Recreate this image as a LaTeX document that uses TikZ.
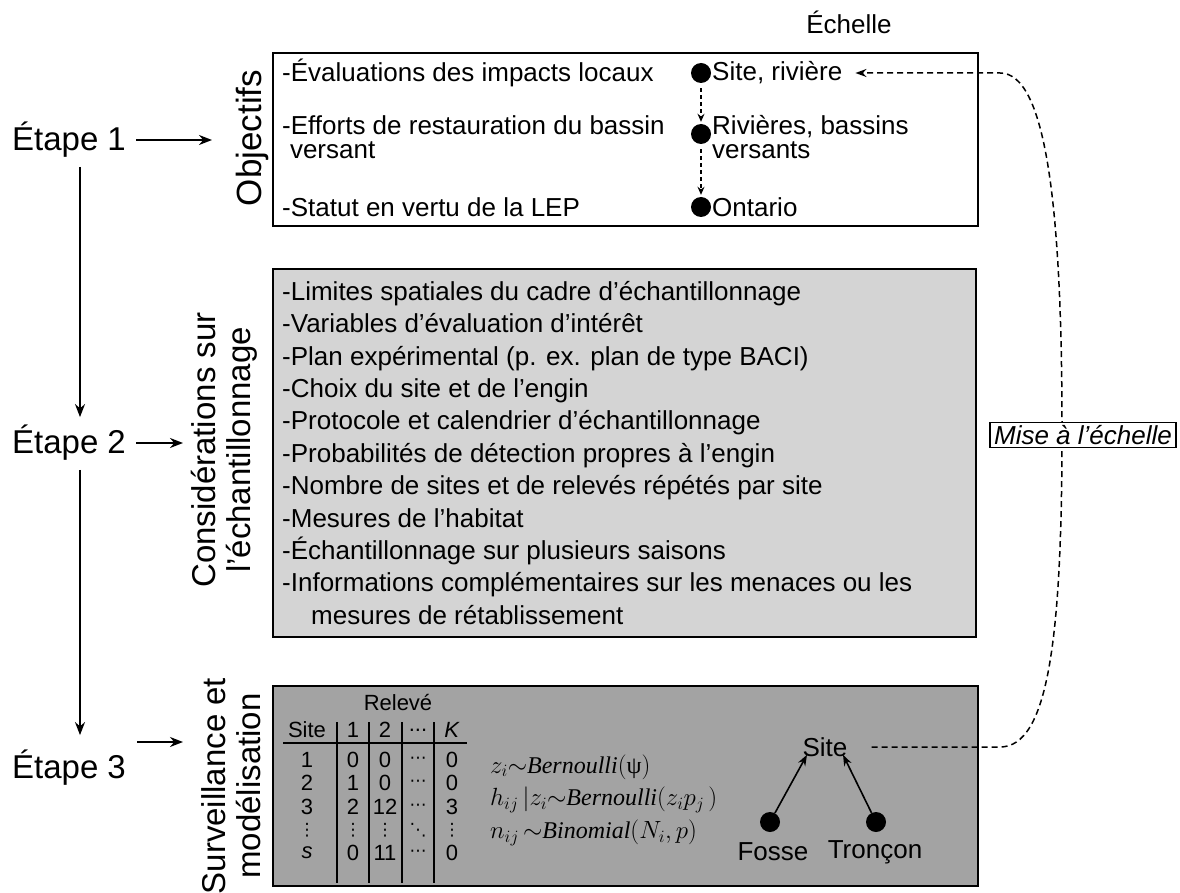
\documentclass[tikz,border=0pt]{standalone}
\usepackage{fontspec}
\setmainfont{Liberation Sans}
\newfontfamily\eqf{Liberation Serif}
\newfontfamily\djv{DejaVu Sans}
\usetikzlibrary{arrows.meta}
\newcommand{\hdots}{{\djv\fontsize{17}{17}\selectfont ⋯}}
\newcommand{\vdotsx}{{\djv\fontsize{17}{17}\selectfont ⋮}}
\newcommand{\ddotsx}{{\djv\fontsize{17}{17}\selectfont ⋱}}
\newcommand{\ei}[1]{\mbox{\eqf\itshape #1}}
\begin{document}
\begin{tikzpicture}[x=1pt,y=-1pt,
  every node/.style={inner sep=0pt},
  body/.style={font=\fontsize{26}{28}\selectfont},
  big/.style={font=\fontsize{33}{38}\selectfont},
  side/.style={font=\fontsize{33}{35}\selectfont, rotate=90, align=center},
  panel/.style={draw=black, line width=1.8pt, anchor=north west},
  arr/.style={line width=1.8pt, -{Stealth[length=13pt,width=10pt]}},
  sarr/.style={line width=1.6pt, -{Stealth[length=11pt,width=8pt]}},
  dotnode/.style={circle, fill=black, minimum size=20pt},
  dashl/.style={line width=1.5pt, dash pattern=on 6pt off 4pt},
  tab/.style={font=\fontsize{22}{24}\selectfont},
  tline/.style={line width=1.8pt},
  eq/.style={font=\fontsize{24}{26}\selectfont\eqf, anchor=west},
  twol/.style={anchor=west, align=left, font=\fontsize{26}{24}\selectfont}
]
\useasboundingbox (0,0) rectangle (1180,893);

% panels
\node[panel, fill=white, minimum width=705pt, minimum height=173pt] (b1) at (272,52) {};
\node[panel, fill=black!17, minimum width=703pt, minimum height=368pt] (b2) at (272,268) {};
\node[panel, fill=black!36, minimum width=705pt, minimum height=200pt] (b3) at (272,685) {};

% scale header
\node[body] (ech) at (849,22) {Échelle};

% step labels
\node[big] (e1) at (69,140) {Étape 1};
\node[big] (e2) at (69,443) {Étape 2};
\node[big] (e3) at (69,768) {Étape 3};
\coordinate (vx) at (80,0);
\coordinate (t1) at (212,140);
\coordinate (t2) at (183,443);
\coordinate (s3) at (137,742);
\coordinate (t3) at (183,742);
\draw[arr, shorten <=10pt] (e1.east) -- (t1);
\draw[arr, shorten <=10pt] (e2.east) -- (t2);
\draw[arr] (s3) -- (t3);
\draw[arr, shorten <=9pt, shorten >=8pt] (e1.south -| vx) -- (e2.north -| vx);
\draw[arr, shorten <=9pt, shorten >=15pt] (e2.south -| vx) -- (e3.north -| vx);

% rotated section labels
\node[side, font=\fontsize{35}{37}\selectfont] (lo) at (252,138) {Objectifs};
\node[side] (lc) at (224,450) {Considérations sur\\l’échantillonnage};
\node[side] (ls) at (231,786) {Surveillance et\\modélisation};

% objectives
\node[body, anchor=west] (o1) at (282,73) {-Évaluations des impacts locaux};
\node[twol] (o2) at (282,137) {-Efforts de restauration du bassin\\\hspace*{0.3em}versant};
\node[body, anchor=west] (o3) at (282,207) {-Statut en vertu de la LEP};

\node[dotnode] (d1) at (701,73) {};
\node[dotnode] (d2) at (701,134) {};
\node[dotnode] (d3) at (701,207) {};
\node[body, anchor=west] (s1) at (712,73) {Site, rivière};
\node[twol] (s2) at (712,137) {Rivières, bassins\\versants};
\node[body, anchor=west] (s3l) at (712,207) {Ontario};
\draw[dashl, line width=1.3pt, dash pattern=on 4pt off 3pt, -{Stealth[length=8pt,width=7pt]}, shorten <=5pt, shorten >=2pt] (d1.south) -- (d2.north);
\draw[dashl, line width=1.3pt, dash pattern=on 4pt off 3pt, -{Stealth[length=8pt,width=7pt]}, shorten <=5pt, shorten >=2pt] (d2.south) -- (d3.north);

% sampling considerations
\node[anchor=north west, align=left, font=\fontsize{26}{32.4}\selectfont] (cl) at (282,281) {%
-Limites spatiales du cadre d’échantillonnage\\
-Variables d’évaluation d’intérêt\\
-Plan expérimental (p. ex. plan de type BACI)\\
-Choix du site et de l’engin\\
-Protocole et calendrier d’échantillonnage\\
-Probabilités de détection propres à l’engin\\
-Nombre de sites et de relevés répétés par site\\
-Mesures de l’habitat\\
-Échantillonnage sur plusieurs saisons\\
-Informations complémentaires sur les menaces ou les\\
\hspace*{29pt}mesures de rétablissement};

% table
\node[tab] (rel) at (398,703) {Relevé};
\node[tab] (hs) at (307,730) {Site};
\node[tab] (h1) at (353,730) {1};
\node[tab] (h2) at (385,730) {2};
\node[tab] (hd) at (418,730) {...};
\node[tab] (hk) at (452,730) {\textit{K}};
\draw[tline] (283,743) -- (467,743);
\foreach \xx in {337,369,402,434} \draw[tline] (\xx,722) -- (\xx,883);
\foreach \yy/\a/\b/\c/\d/\e [count=\r] in {760/1/0/0/\hdots/0, 783/2/1/0/\hdots/0, 807/3/2/12/\hdots/3, 830/\vdotsx/\vdotsx/\vdotsx/\ddotsx/\vdotsx, 853/\textit{s}/0/11/\hdots/0} {
  \node[tab] (ra\r) at (307,\yy) {\a};
  \node[tab] (rb\r) at (353,\yy) {\b};
  \node[tab] (rc\r) at (385,\yy) {\c};
  \node[tab] (rd\r) at (418,\yy) {\d};
  \node[tab] (re\r) at (452,\yy) {\e};
}

% equations
\node[eq] (q1) at (490,767) {$z_i{\sim}\ei{Bernoulli}(\mbox{\eqf ψ})$};
\node[eq] (q2) at (490,800) {$h_{ij}\,|z_i{\sim}\ei{Bernoulli}(z_ip_j\,)$};
\node[eq] (q3) at (490,833) {$n_{ij}\,{\sim}\ei{Binomial}(N_i,p)$};

% site hierarchy
\node[body] (st) at (825,747) {Site};
\node[dotnode] (fd) at (770,822) {};
\node[dotnode] (td) at (876,822) {};
\node[body] (fl) at (773,852) {Fosse};
\node[body] (tl) at (875,852) {Tronçon};
\draw[sarr] (fd) -- ([xshift=-18pt,yshift=2pt]st.south);
\draw[sarr] (td) -- ([xshift=18pt,yshift=2pt]st.south);

% scaling connector
\draw[dashl, -{Stealth[length=11pt,width=8pt]}] ([xshift=24pt]st.east) -- (1000,747)
  .. controls (1048,747) and (1062,640) .. (1062,430)
  .. controls (1062,200) and (1045,73) .. (1000,73) -- ([xshift=13pt]s1.east);
\node[draw, line width=1.5pt, fill=white, inner xsep=4pt, inner ysep=3pt, font=\fontsize{26}{28}\selectfont\itshape] (mise) at (1083,435) {Mise à l’échelle};
\end{tikzpicture}
\end{document}
